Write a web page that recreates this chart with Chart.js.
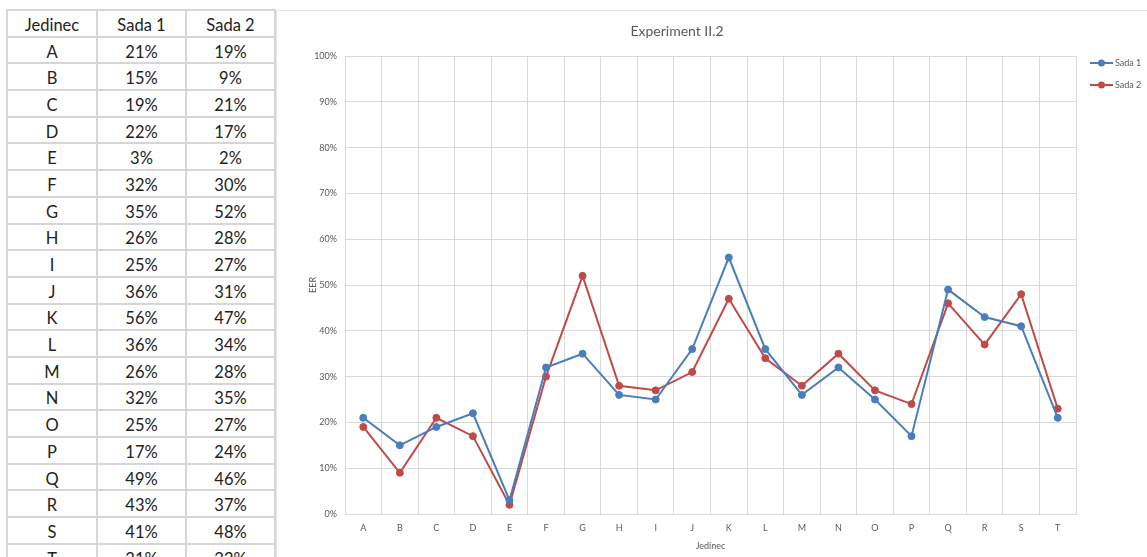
<!DOCTYPE html>
<html>
<head>
<meta charset="utf-8">
<script src="https://cdn.jsdelivr.net/npm/chart.js@4.4.1/dist/chart.umd.min.js"></script>
<style>
  html, body { margin: 0; padding: 0; background: #fff; width: 1147px; height: 557px; overflow: hidden; }
  #tbl {
    position: absolute; left: 6px; top: 9px;
    border-collapse: collapse; table-layout: fixed;
    font-family: Lato, "Open Sans", sans-serif; font-size: 16.5px; color: #222;
  }
  #tbl td {
    border: 2px solid #d6d6d6; height: 24.7px; padding: 0; text-align: center; line-height: 24px;
  }
  #tbl td span { position: relative; top: 1.5px; }
  #box {
    position: absolute; left: 276px; top: 10px; width: 871px; height: 547px;
    border-left: 1px solid #e6e6e6; border-top: 1px solid #e6e6e6; box-sizing: border-box;
  }
  #wrap { position: absolute; left: 1px; top: 1px; width: 870px; height: 546px; }
</style>
</head>
<body>
<table id="tbl">
  <colgroup><col style="width:90px"><col style="width:89px"><col style="width:89px"></colgroup>
  <tbody id="tbody"></tbody>
</table>
<div id="box"><div id="wrap"><canvas id="c"></canvas></div></div>
<script>
// Individuals and their error rates (in %) for the two sets
const jedinci = ['A','B','C','D','E','F','G','H','I','J','K','L','M','N','O','P','Q','R','S','T'];
const sada1 = [21, 15, 19, 22, 3, 32, 35, 26, 25, 36, 56, 36, 26, 32, 25, 17, 49, 43, 41, 21];
const sada2 = [19, 9, 21, 17, 2, 30, 52, 28, 27, 31, 47, 34, 28, 35, 27, 24, 46, 37, 48, 23];
const yTicks = [0, 10, 20, 30, 40, 50, 60, 70, 80, 90, 100];
const seriesNames = ['Sada 1', 'Sada 2'];
const headers = ['Jedinec', 'Sada 1', 'Sada 2'];

// Data table
const tbody = document.getElementById('tbody');
const addRow = cells => {
  const tr = document.createElement('tr');
  cells.forEach(t => {
    const td = document.createElement('td');
    const sp = document.createElement('span');
    sp.textContent = t; td.appendChild(sp); tr.appendChild(td);
  });
  tbody.appendChild(tr);
};
addRow(headers);
jedinci.forEach((j, i) => addRow([j, sada1[i] + '%', sada2[i] + '%']));

// Chart
const blue = '#4a7ebb', red = '#be4b48';
const grid = '#d9d9d9', txt = '#595959';
const font = 'Lato';

// Legend at the right: line with a dot, followed by the series name
const sideLegend = {
  id: 'sideLegend',
  afterDraw(chart) {
    const ctx = chart.ctx;
    const x0 = 812, y0 = 51, step = 22;
    ctx.save();
    chart.data.datasets.forEach((ds, i) => {
      const y = y0 + i * step;
      ctx.strokeStyle = ds.borderColor; ctx.lineWidth = 2;
      ctx.beginPath(); ctx.moveTo(x0, y); ctx.lineTo(x0 + 23, y); ctx.stroke();
      ctx.fillStyle = ds.borderColor;
      ctx.beginPath(); ctx.arc(x0 + 11.5, y, 3.5, 0, Math.PI * 2); ctx.fill();
      ctx.fillStyle = txt; ctx.font = '9px ' + font; ctx.textBaseline = 'middle'; ctx.textAlign = 'left';
      ctx.fillText(ds.label, x0 + 25, y + 0.5);
    });
    ctx.restore();
  }
};

new Chart(document.getElementById('c'), {
  type: 'line',
  data: {
    labels: jedinci,
    datasets: [
      { label: seriesNames[0], data: sada1, borderColor: blue, backgroundColor: blue,
        pointBackgroundColor: blue, pointBorderColor: blue },
      { label: seriesNames[1], data: sada2, borderColor: red, backgroundColor: red,
        pointBackgroundColor: red, pointBorderColor: red }
    ]
  },
  options: {
    responsive: true, maintainAspectRatio: false, animation: false,
    layout: { padding: { left: 0, right: 72, top: 0, bottom: 0 } },
    elements: {
      line: { borderWidth: 2, tension: 0 },
      point: { radius: 3.5, borderWidth: 1, hoverRadius: 3.5 }
    },
    plugins: {
      legend: { display: false },
      tooltip: { enabled: false },
      title: {
        display: true, text: 'Experiment II.2', color: txt,
        font: { family: font, size: 14, weight: 'normal' },
        padding: { top: 10.6, bottom: 16.6 }
      }
    },
    scales: {
      x: {
        offset: true,
        grid: { color: grid, lineWidth: 1, offset: true, drawTicks: false },
        border: { color: grid, width: 1 },
        ticks: { color: txt, font: { family: font, size: 9 }, padding: 8.6, maxRotation: 0, autoSkip: false },
        title: { display: true, text: 'Jedinec', color: txt, font: { family: font, size: 9 },
                 padding: { top: 0, bottom: 6.6 } },
        afterFit: s => { s.height = 44; }
      },
      y: {
        min: 0, max: 100,
        afterBuildTicks: s => { s.ticks = yTicks.map(v => ({ value: v })); },
        grid: { color: grid, lineWidth: 1, drawTicks: false },
        border: { color: grid, width: 1 },
        ticks: { color: txt, font: { family: font, size: 9 }, padding: 8, callback: v => v + '%' },
        title: { display: true, text: 'EER', color: txt, font: { family: font, size: 9 },
                 padding: { top: 29.6, bottom: 0 } },
        afterFit: s => { s.width = 67; }
      }
    }
  },
  plugins: [sideLegend]
});
</script>
</body>
</html>
